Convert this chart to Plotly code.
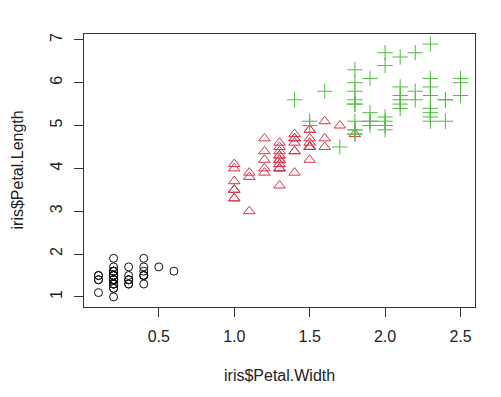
import plotly.graph_objects as go

# iris data: Petal.Width / Petal.Length by species
setosa_width = [0.2,0.2,0.2,0.2,0.2,0.4,0.3,0.2,0.2,0.1,0.2,0.2,0.1,0.1,0.2,0.4,0.4,0.3,0.3,0.3,
                0.2,0.4,0.2,0.5,0.2,0.2,0.4,0.2,0.2,0.2,0.2,0.4,0.1,0.2,0.2,0.2,0.2,0.1,0.2,0.2,
                0.3,0.3,0.2,0.6,0.4,0.3,0.2,0.2,0.2,0.2]
setosa_length = [1.4,1.4,1.3,1.5,1.4,1.7,1.4,1.5,1.4,1.5,1.5,1.6,1.4,1.1,1.2,1.5,1.3,1.4,1.7,1.5,
                 1.7,1.5,1.0,1.7,1.9,1.6,1.6,1.5,1.4,1.6,1.6,1.5,1.5,1.4,1.5,1.2,1.3,1.4,1.3,1.5,
                 1.3,1.3,1.3,1.6,1.9,1.4,1.6,1.4,1.5,1.4]
versicolor_width = [1.4,1.5,1.5,1.3,1.5,1.3,1.6,1.0,1.3,1.4,1.0,1.5,1.0,1.4,1.3,1.4,1.5,1.0,1.5,1.1,
                    1.8,1.3,1.5,1.2,1.3,1.4,1.4,1.7,1.5,1.0,1.1,1.0,1.2,1.6,1.5,1.6,1.5,1.3,1.3,1.3,
                    1.2,1.4,1.2,1.0,1.3,1.2,1.3,1.3,1.1,1.3]
versicolor_length = [4.7,4.5,4.9,4.0,4.6,4.5,4.7,3.3,4.6,3.9,3.5,4.2,4.0,4.7,3.6,4.4,4.5,4.1,4.5,3.9,
                     4.8,4.0,4.9,4.7,4.3,4.4,4.8,5.0,4.5,3.5,3.8,3.7,3.9,5.1,4.5,4.5,4.7,4.4,4.1,4.0,
                     4.4,4.6,4.0,3.3,4.2,4.2,4.2,4.3,3.0,4.1]
virginica_width = [2.5,1.9,2.1,1.8,2.2,2.1,1.7,1.8,1.8,2.5,2.0,1.9,2.1,2.0,2.4,2.3,1.8,2.2,2.3,1.5,
                   2.3,2.0,2.0,1.8,2.1,1.8,1.8,1.8,2.1,1.6,1.9,2.0,2.2,1.5,1.4,2.3,2.4,1.8,1.8,2.1,
                   2.4,2.3,1.9,2.3,2.5,2.3,1.9,2.0,2.3,1.8]
virginica_length = [6.0,5.1,5.9,5.6,5.8,6.6,4.5,6.3,5.8,6.1,5.1,5.3,5.5,5.0,5.1,5.3,5.5,6.7,6.9,5.0,
                    5.7,4.9,6.7,4.9,5.7,6.0,4.8,4.9,5.6,5.8,6.1,6.4,5.6,5.1,5.6,6.1,5.6,5.5,4.8,5.4,
                    5.6,5.1,5.1,5.9,5.7,5.2,5.0,5.2,5.4,5.1]

x_ticks = [0.5, 1.0, 1.5, 2.0, 2.5]
x_ticklabels = ["0.5", "1.0", "1.5", "2.0", "2.5"]
y_ticks = [1, 2, 3, 4, 5, 6, 7]
y_ticklabels = ["1", "2", "3", "4", "5", "6", "7"]
x_title = "iris$Petal.Width"
y_title = "iris$Petal.Length"

fig = go.Figure()
fig.add_trace(go.Scatter(x=setosa_width, y=setosa_length, mode="markers",
                         marker=dict(symbol="circle-open", size=8, color="#111111",
                                     line=dict(width=1))))
fig.add_trace(go.Scatter(x=versicolor_width, y=versicolor_length, mode="markers",
                         marker=dict(symbol="triangle-up-open", size=10, color="#D8324A",
                                     line=dict(width=1))))
fig.add_trace(go.Scatter(x=virginica_width, y=virginica_length, mode="markers",
                         marker=dict(symbol="cross-thin-open", size=11, color="#4DBE3C",
                                     line=dict(width=1))))

font_family = "Liberation Sans, Arial, sans-serif"
# page body has an 8px default margin, so the figure is sized 8px smaller
W, H = 493, 389
L, R, T, B = 76, 26, 26, 90
fig.update_layout(
    width=W, height=H,
    margin=dict(l=L, r=R, t=T, b=B, autoexpand=False),
    paper_bgcolor="white", plot_bgcolor="white",
    showlegend=False,
    font=dict(family=font_family, size=16, color="#222222"),
    xaxis=dict(range=[0.004, 2.596], tickvals=x_ticks, ticktext=x_ticklabels,
               showgrid=False, zeroline=False, showline=True, mirror=True,
               linecolor="#333333", linewidth=1, ticks="outside", ticklen=9,
               tickcolor="#333333", tickfont=dict(size=16), automargin=False,
               ticklabelstandoff=6),
    yaxis=dict(range=[0.764, 7.136], tickvals=y_ticks, ticktext=y_ticklabels,
               showgrid=False, zeroline=False, showline=True, mirror=True,
               linecolor="#333333", linewidth=1, ticks="outside", ticklen=9,
               tickcolor="#333333", tickangle=-90, tickfont=dict(size=16),
               automargin=False, ticklabelstandoff=6),
    annotations=[
        dict(text=x_title, xref="paper", yref="paper", x=0.5,
             y=-(367 - (H - B)) / (H - T - B),
             xanchor="center", yanchor="middle", showarrow=False, font=dict(size=16)),
        dict(text=y_title, xref="paper", yref="paper", x=-(L - 9) / (W - L - R), y=0.5,
             xanchor="center", yanchor="middle", showarrow=False, textangle=-90,
             font=dict(size=16)),
    ],
)

fig.write_html("out.html")
